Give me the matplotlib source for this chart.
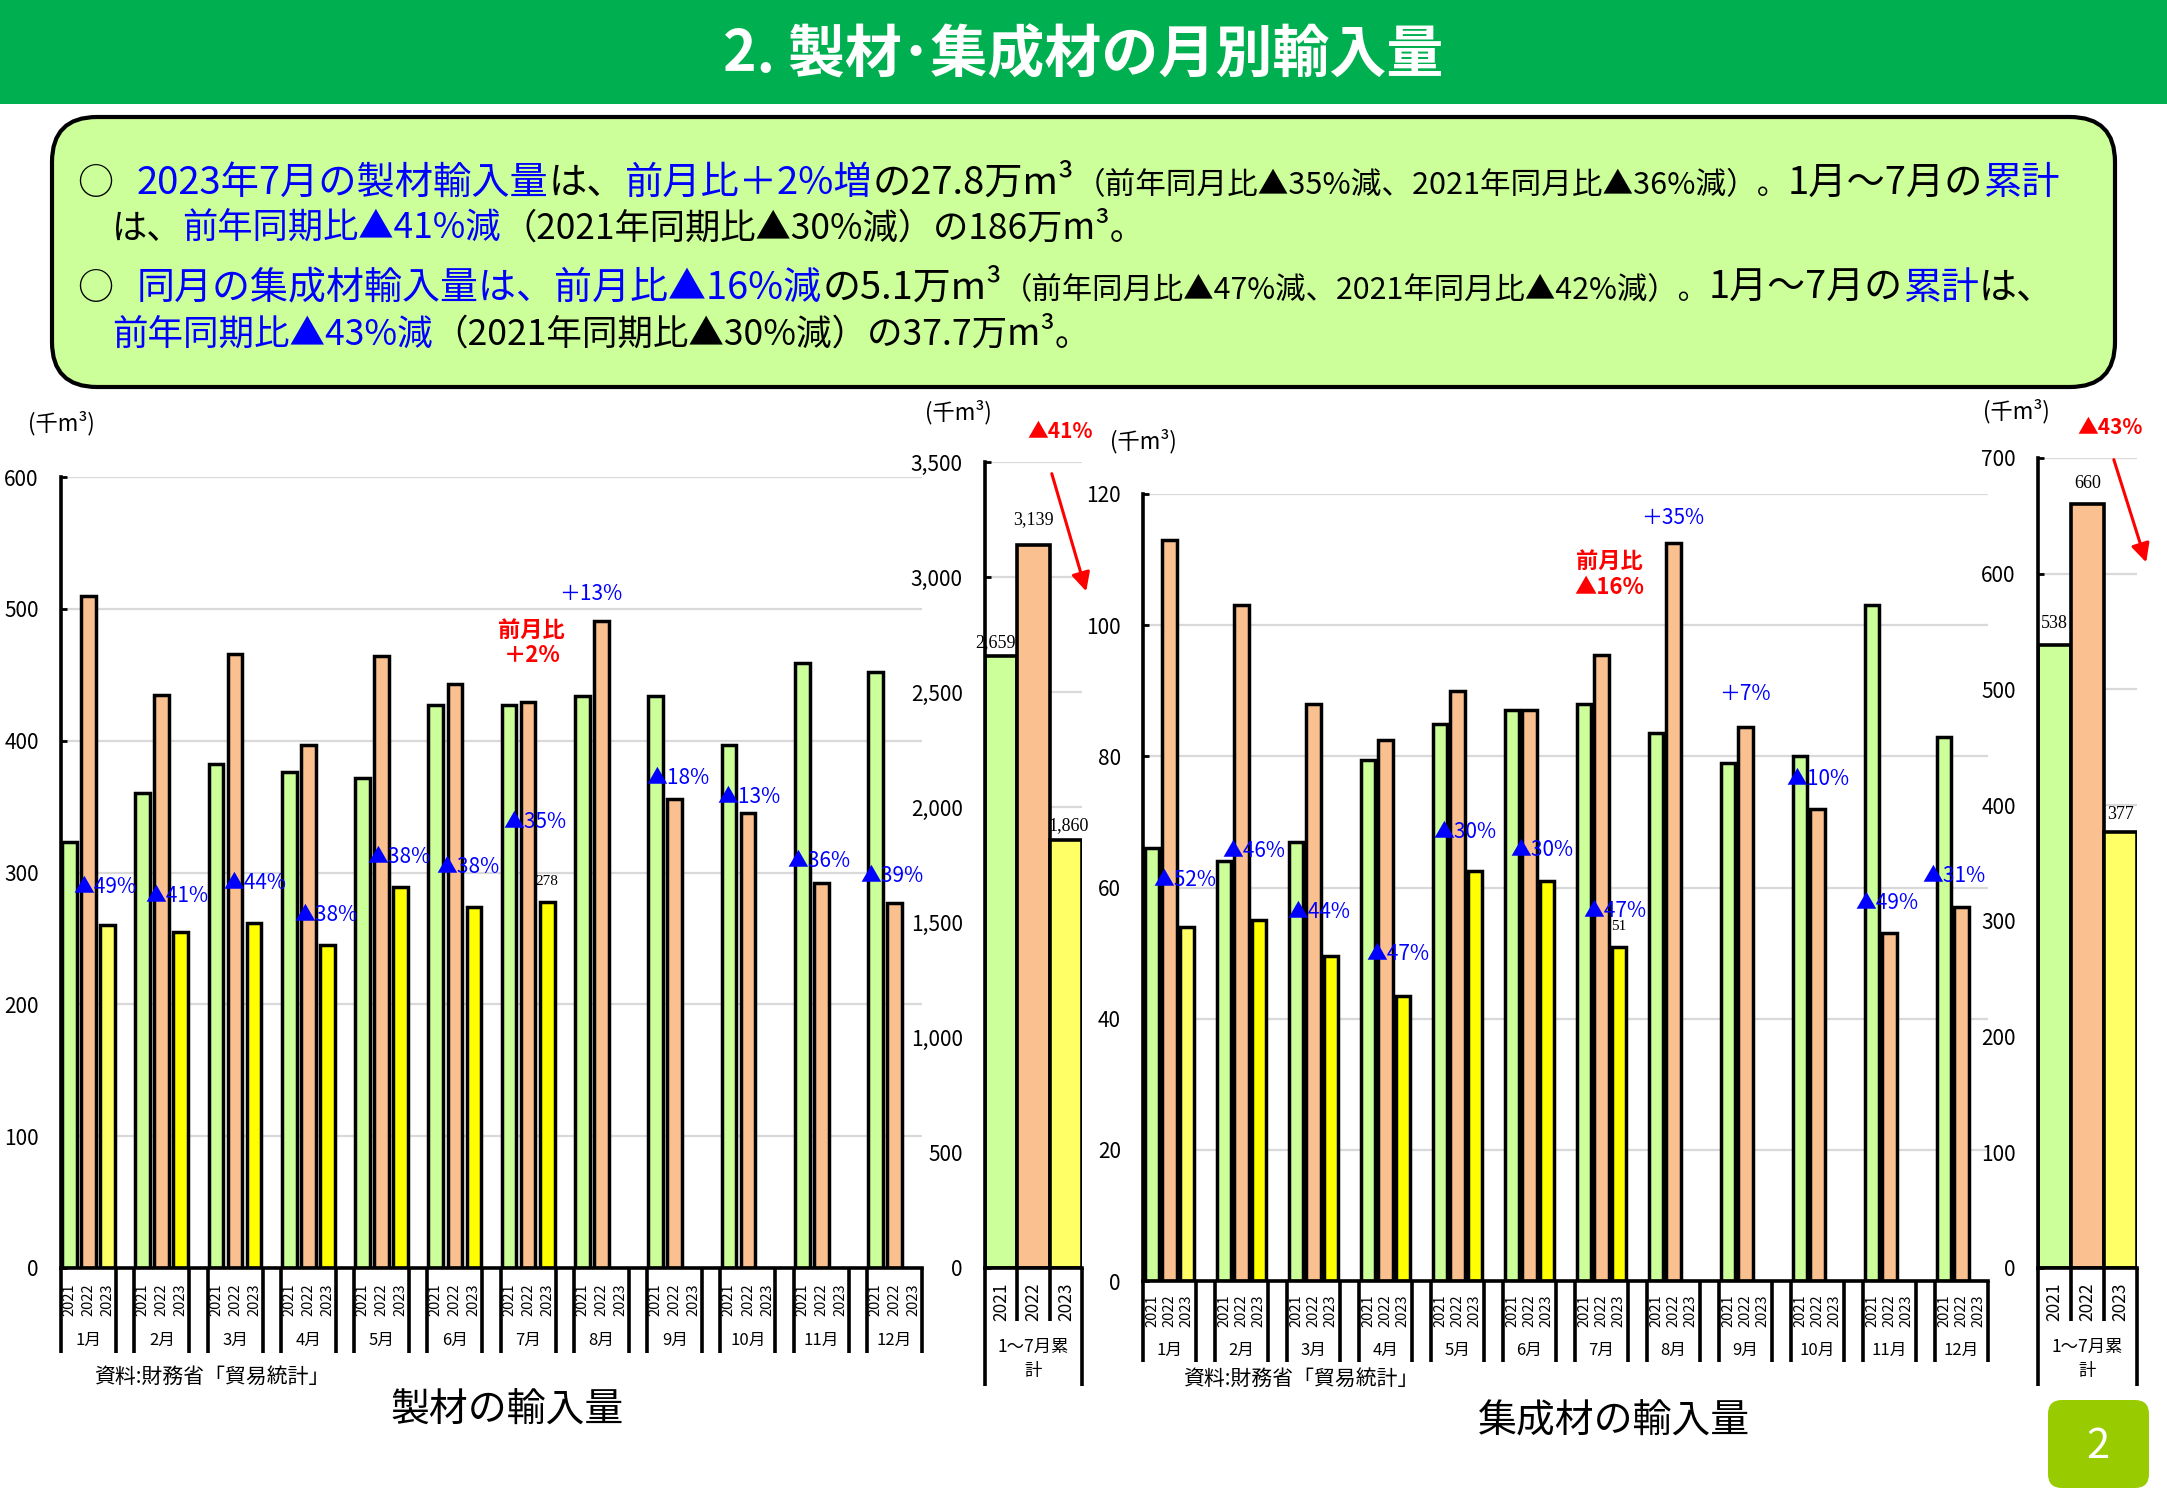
import matplotlib
matplotlib.use("Agg")
import matplotlib.pyplot as plt
from matplotlib.patches import FancyBboxPatch, Rectangle
import numpy as np

plt.rcParams['font.family'] = ['Noto Sans CJK JP', 'DejaVu Sans']

# ---- data ------------------------------------------------------------
months = ['1月', '2月', '3月', '4月', '5月', '6月', '7月', '8月', '9月', '10月', '11月', '12月']
years = ['2021', '2022', '2023']
cum_name = '1～7月累\n計'

saw_2021 = [323, 360, 382, 376, 372, 427, 427, 434, 434, 397, 459, 452]
saw_2022 = [510, 435, 466, 397, 464, 443, 429, 491, 356, 345, 292, 277]
saw_2023 = [260, 255, 262, 245, 289, 274, 278]
saw_cum = [2659, 3139, 1860]
saw_notes = ['▲49%', '▲41%', '▲44%', '▲38%', '▲38%', '▲38%', '▲35%',
             '＋13%', '▲18%', '▲13%', '▲36%', '▲39%']

glu_2021 = [66, 64, 67, 79.5, 85, 87, 88, 83.5, 79, 80, 103, 83]
glu_2022 = [113, 103, 88, 82.5, 90, 87, 95.5, 112.5, 84.5, 72, 53, 57]
glu_2023 = [54, 55, 49.5, 43.5, 62.5, 61, 51]
glu_cum = [538, 660, 377]
glu_notes = ['▲52%', '▲46%', '▲44%', '▲47%', '▲30%', '▲30%', '▲47%',
             '＋35%', '＋7%', '▲10%', '▲49%', '▲31%']

# hand placed notes (x = left edge in category units, y = centre in data units)
saw_note_x = [-0.21, 0.78, 1.835, 2.81, 3.81, 4.75, 5.66, 6.42, 7.62, 8.58, 9.54, 10.54]
saw_note_y = [289, 282, 292, 268, 312, 304, 338, 511, 372, 357, 309, 297]
glu_note_x = [-0.22, 0.736, 1.64, 2.73, 3.67, 4.73, 5.75, 6.55, 7.64, 8.57, 9.52, 10.46]
glu_note_y = [61.2, 65.6, 56.2, 49.8, 68.4, 65.7, 56.4, 116.3, 89.5, 76.6, 57.7, 61.8]

GREEN, SALMON, YELLOW, PALE = '#CCFF99', '#FAC090', '#FFFF00', '#FFFF66'
BLUE, RED = '#0000FF', '#FF0000'

W, H = 2167, 1500
fig = plt.figure(figsize=(W / 100, H / 100), dpi=100)


def rect(x0, y0, x1, y1):
    # pixel box (origin top left) -> figure fraction
    return [x0 / W, 1 - y1 / H, (x1 - x0) / W, (y1 - y0) / H]


def style(ax, top, step, fmt=None):
    ax.set_ylim(0, top)
    ticks = np.arange(0, top + 1, step)
    ax.set_yticks(ticks)
    if fmt:
        ax.set_yticklabels([fmt.format(t) for t in ticks])
    for s in ['top', 'right']:
        ax.spines[s].set_visible(False)
    for s in ['left', 'bottom']:
        ax.spines[s].set_linewidth(2.6)
    ax.yaxis.grid(True, color='#D9D9D9', lw=1.6)
    ax.set_axisbelow(True)
    ax.tick_params(axis='y', direction='in', length=4, width=2, pad=16, labelsize=15)
    ax.tick_params(axis='x', length=0, labelbottom=False)
    ax.patch.set_alpha(0)


def frac(ax, px):
    return -px / (ax.get_position().height * H)


def vline(ax, x, depth):
    ax.plot([x, x], [0, frac(ax, depth)], color='k', lw=2.6,
            transform=ax.get_xaxis_transform(), clip_on=False, solid_capstyle='butt')


def month_chart(box, top, step, v21, v22, v23, off, half, depth, yr_y, m_y):
    ax = fig.add_axes(rect(*box))
    x = np.arange(len(months))
    ax.set_xlim(-half, len(months) - 1 + half)
    style(ax, top, step)
    c23 = [PALE] + [YELLOW] * (len(v23) - 1)
    ax.bar(x - off, v21, 0.2, color=GREEN, edgecolor='k', lw=2.5)
    ax.bar(x, v22, 0.2, color=SALMON, edgecolor='k', lw=2.5)
    ax.bar(np.arange(len(v23)) + off, v23, 0.2, color=c23, edgecolor='k', lw=2.5)
    tr = ax.get_xaxis_transform()
    for i, m in enumerate(months):
        vline(ax, i - half, depth)
        vline(ax, i + half, depth)
        for o, yr in zip((-off, 0, off), years):
            ax.text(i + o, frac(ax, yr_y), yr, rotation=90, ha='center', va='center',
                    fontsize=10.5, transform=tr)
        ax.text(i, frac(ax, m_y), m, ha='center', va='center', fontsize=12, transform=tr)
    return ax


def cum_chart(box, top, step, vals, fmt, lab_x, lab_dy):
    ax = fig.add_axes(rect(*box))
    ax.set_xlim(-0.5, 2.5)
    style(ax, top, step, fmt)
    ax.bar(range(3), vals, 1.0, color=[GREEN, SALMON, PALE], edgecolor='k', lw=2.6)
    tr = ax.get_xaxis_transform()
    for xe in (-0.5, 2.5):
        vline(ax, xe, 118)
    for xe in (0.5, 1.5):
        vline(ax, xe, 53)
    for i, yr in enumerate(years):
        ax.text(i, frac(ax, 34), yr, rotation=90, ha='center', va='center', fontsize=12.5, transform=tr)
    ax.text(1, frac(ax, 91), cum_name, ha='center', va='center', fontsize=12.5,
            linespacing=1.45, transform=tr)
    for i, v in enumerate(vals):
        ha = 'right' if i == 0 and lab_x[0] != 0 else 'center'
        ax.annotate('{:,}'.format(v), xy=(i + lab_x[i], v), xytext=(0, lab_dy[i]),
                    textcoords='offset points', ha=ha, va='bottom', fontsize=13,
                    family='Liberation Serif')
    return ax


def notes(ax, xs, ys, texts):
    for x, y, t in zip(xs, ys, texts):
        ax.text(x, y, t, color=BLUE, fontsize=15, ha='left', va='center')


# ---- 製材 ------------------------------------------------------------
ax1 = month_chart((61, 477, 922, 1268), 600, 100, saw_2021, saw_2022, saw_2023,
                  0.26, 0.375, 85, 32, 72)
notes(ax1, saw_note_x, saw_note_y, saw_notes)
ax1.annotate(str(saw_2023[6]), xy=(6.25, saw_2023[6]), xytext=(0, 10), textcoords='offset points',
             ha='center', va='bottom', fontsize=11, family='Liberation Serif')
ax1.text(6.05, 474, '前月比\n＋2%', color=RED, fontsize=16, fontweight='bold',
         ha='center', va='center', linespacing=1.15)

ax2 = cum_chart((985, 462, 1082, 1268), 3500, 500, saw_cum, '{:,}',
                [0.45, 0, 0.1], [3, 12, 4])

# ---- 集成材 ----------------------------------------------------------
ax3 = month_chart((1143, 494, 1988, 1281), 120, 20, glu_2021, glu_2022, glu_2023,
                  0.24, 0.368, 81, 30, 69)
notes(ax3, glu_note_x, glu_note_y, glu_notes)
ax3.annotate(str(glu_2023[6]), xy=(6.24, glu_2023[6]), xytext=(0, 10), textcoords='offset points',
             ha='center', va='bottom', fontsize=11, family='Liberation Serif')
ax3.text(6.11, 107.7, '前月比\n▲16%', color=RED, fontsize=16, fontweight='bold',
         ha='center', va='center', linespacing=1.15)

ax4 = cum_chart((2038, 458, 2137, 1268), 700, 100, glu_cum, None,
                [0, 0, 0], [10, 9, 6])

# ---- page decoration (pixel coordinates) ------------------------------
ov = fig.add_axes([0, 0, 1, 1])
ov.set_xlim(0, W)
ov.set_ylim(H, 0)
ov.axis('off')

ov.add_patch(Rectangle((0, 0), W, 104, color='#00B050', lw=0))
ov.text(1083, 55, '2. 製材･集成材の月別輸入量', color='white', fontsize=41,
        fontweight='bold', ha='center', va='center')

ov.add_patch(FancyBboxPatch((52, 117), 2063, 270, boxstyle='round,pad=0,rounding_size=45',
                            fc=GREEN, ec='k', lw=3))

rend = fig.canvas.get_renderer()


def put_line(x0, x1, yc, runs, base=26):
    ts = [ov.text(0, 0, s, color=c, fontsize=base * k, va='baseline', ha='left')
          for s, c, k in runs]
    w = sum(t.get_window_extent(rend).width for t in ts)
    f = (x1 - x0) / w
    x = x0
    yb = yc + 0.36 * base * f * 100 / 72
    for t, (s, c, k) in zip(ts, runs):
        t.set_fontsize(base * k * f)
        t.set_position((x, yb))
        x += t.get_window_extent(rend).width
    return yb


K = 'black'
yb = put_line(137, 2061, 180, [
    ('2023年7月の製材輸入量', BLUE, 1), ('は、', K, 1), ('前月比＋2%増', BLUE, 1),
    ('の27.8万m³', K, 1), ('（前年同月比▲35%減、2021年同月比▲36%減）。', K, 0.8),
    ('1月～7月の', K, 1), ('累計', BLUE, 1)])
ov.text(77, yb, '○', fontsize=26, va='baseline', ha='left')
put_line(112, 1146, 226, [
    ('は、', K, 1), ('前年同期比▲41%減', BLUE, 1), ('（2021年同期比▲30%減）の186万m³。', K, 1)])
yb = put_line(137, 2054, 285, [
    ('同月の集成材輸入量は、前月比▲16%減', BLUE, 1), ('の5.1万m³', K, 1),
    ('（前年同月比▲47%減、2021年同月比▲42%減）。', K, 0.8),
    ('1月～7月の', K, 1), ('累計', BLUE, 1), ('は、', K, 1)])
ov.text(77, yb, '○', fontsize=26, va='baseline', ha='left')
put_line(112, 1092, 332, [
    ('前年同期比▲43%減', BLUE, 1), ('（2021年同期比▲30%減）の37.7万m³。', K, 1)])

for x, y in [(61, 423), (958, 412), (1143, 441), (2016, 411)]:
    ov.text(x, y, '(千m³)', fontsize=16, ha='center', va='center')

ov.text(1060, 432, '▲41%', color=RED, fontsize=15, fontweight='bold', ha='center', va='center')
ov.text(2110, 427, '▲43%', color=RED, fontsize=15, fontweight='bold', ha='center', va='center')
for p0, p1 in [((1051, 471), (1087, 594)), ((2113, 457), (2147, 565))]:
    ov.annotate('', xy=p1, xytext=p0,
                arrowprops=dict(arrowstyle='-|>', color=RED, lw=2.2, mutation_scale=28))

ov.text(94, 1377, '資料:財務省「貿易統計」', fontsize=15, ha='left', va='center')
ov.text(1183, 1379, '資料:財務省「貿易統計」', fontsize=15, ha='left', va='center')
ov.text(507, 1411, '製材の輸入量', fontsize=28, ha='center', va='center')
ov.text(1614, 1421, '集成材の輸入量', fontsize=28, ha='center', va='center')

ov.add_patch(FancyBboxPatch((2048, 1400), 101, 88, boxstyle='round,pad=0,rounding_size=14',
                            fc='#99CC00', ec='none'))
ov.text(2098, 1446, '2', color='white', fontsize=30, ha='center', va='center')

fig.savefig('out.png', dpi=100)
